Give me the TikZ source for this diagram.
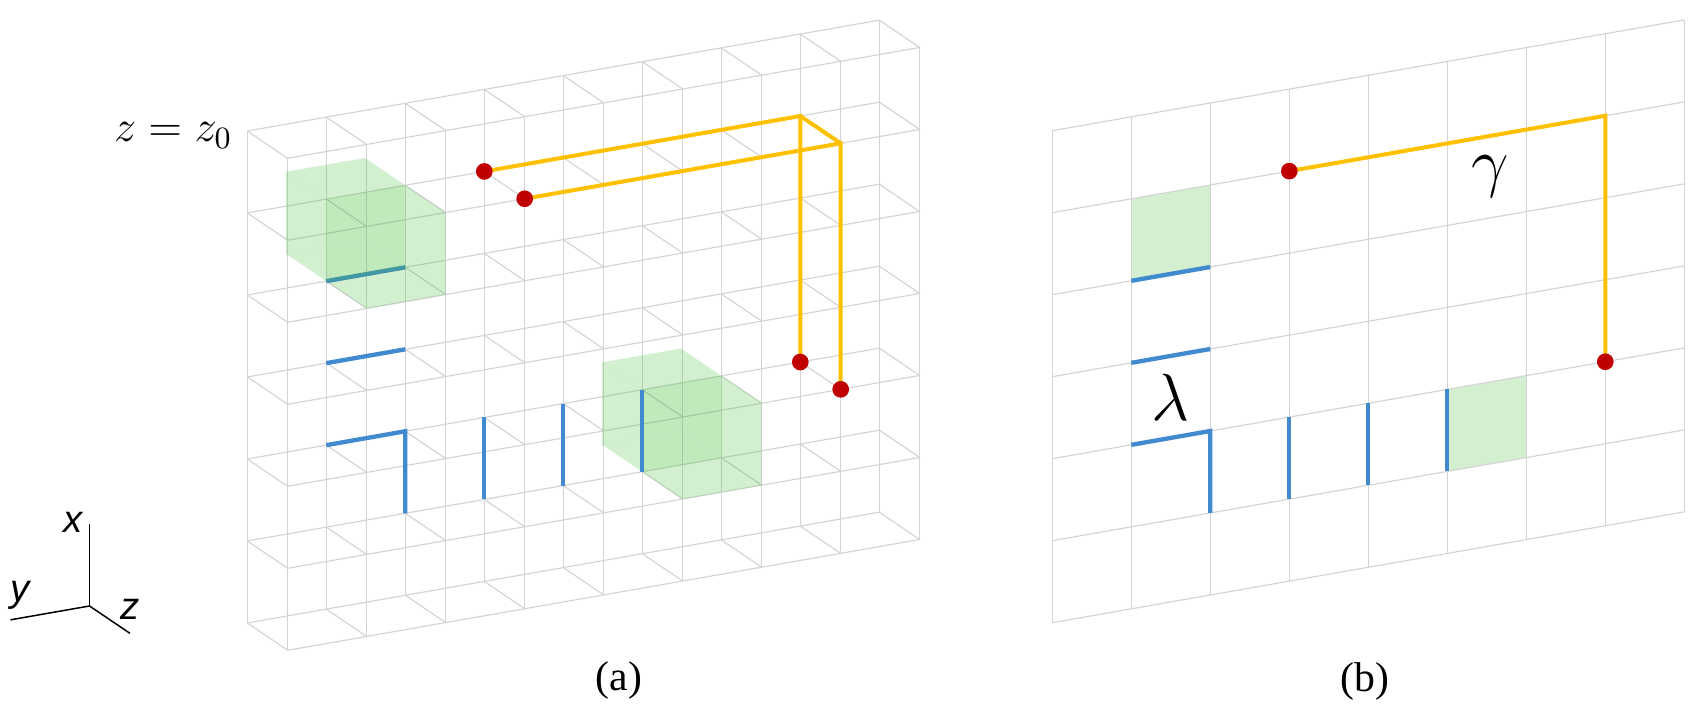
\documentclass[tikz,border=0pt]{standalone}
\usepackage{fix-cm}
\usepackage[no-math]{fontspec}
\newfontfamily\capfont{Liberation Serif}
\newfontfamily\axfont{Liberation Sans}
\usetikzlibrary{positioning}

\definecolor{meshgray}{RGB}{212,212,212}
\definecolor{pathgold}{RGB}{255,192,0}
\definecolor{bondblue}{RGB}{66,138,208}
\definecolor{spotred}{RGB}{192,0,0}
\definecolor{boxgreen}{RGB}{70,190,60}

\newcommand{\membrane}[2]{%
  \fill[cellfill] (#1,#2,-1) -- (#1+1,#2,-1) -- (#1+1,#2+1,-1) -- (#1,#2+1,-1) -- cycle;
  \fill[cellfill] (#1,#2,1) -- (#1+1,#2,1) -- (#1+1,#2+1,1) -- (#1,#2+1,1) -- cycle;
  \fill[cellfill] (#1,#2,-1) -- (#1+1,#2,-1) -- (#1+1,#2,1) -- (#1,#2,1) -- cycle;
  \fill[cellfill] (#1,#2+1,-1) -- (#1+1,#2+1,-1) -- (#1+1,#2+1,1) -- (#1,#2+1,1) -- cycle;
  \fill[cellfill] (#1,#2,-1) -- (#1,#2+1,-1) -- (#1,#2+1,1) -- (#1,#2,1) -- cycle;
  \fill[cellfill] (#1+1,#2,-1) -- (#1+1,#2+1,-1) -- (#1+1,#2+1,1) -- (#1+1,#2,1) -- cycle;
  \fill[cellfill] (#1,#2,0) -- (#1+1,#2,0) -- (#1+1,#2+1,0) -- (#1,#2+1,0) -- cycle;
}

\begin{document}
\begin{tikzpicture}[
  x=0.3pt, y=0.3pt,
  lattice/.style={x={(23.7pt,4.155pt)},y={(0pt,-24.6pt)},z={(12.12pt,-8.19pt)}},
  mesh/.style={draw=meshgray,line width=0.35pt},
  bond/.style={draw=bondblue,line width=1.3pt,line join=miter},
  goldline/.style={draw=pathgold,line width=1.2pt,line join=miter},
  spot/.style={circle,fill=spotred,inner sep=0pt,minimum size=5pt},
  cellfill/.style={fill=boxgreen,fill opacity=0.13},
  plaq/.style={fill=boxgreen,fill opacity=0.24},
  axis/.style={draw=black,line width=0.45pt},
  axlabel/.style={font=\axfont\itshape\fontsize{11.5}{13}\selectfont,inner sep=0pt},
  caption/.style={font=\capfont\fontsize{12.5}{14}\selectfont,inner sep=0pt},
  greek/.style={font=\fontsize{20}{22}\selectfont,inner sep=0pt}
]
\useasboundingbox (0,0) rectangle (1700,714);

% (a) two layers
\begin{scope}[shift={(247.3,583)},lattice]
  \foreach \lay in {0,1}{
    \foreach \col in {0,...,8} \draw[mesh] (\col,0,\lay) -- (\col,6,\lay);
    \foreach \row in {0,...,6} \draw[mesh] (0,\row,\lay) -- (8,\row,\lay);
  }
  \foreach \col in {0,...,8}
    \foreach \row in {0,...,6} \draw[mesh] (\col,\row,0) -- (\col,\row,1);
  \membrane{5}{4}
  \draw[bond] (1,2,0) -- (2,2,0);
  \draw[bond] (1,3,0) -- (2,3,0);
  \draw[bond] (1,4,0) -- (2,4,0) -- (2,5,0);
  \foreach \col in {3,4,5} \draw[bond] (\col,4,0) -- (\col,5,0);
  \membrane{1}{1}
  \coordinate (ua0) at (3,1,0);
  \coordinate (ka0) at (7,1,0);
  \coordinate (va0) at (7,4,0);
  \coordinate (ua1) at (3,1,1);
  \coordinate (ka1) at (7,1,1);
  \coordinate (va1) at (7,4,1);
  \draw[goldline] (ua0) -- (ka0) -- (va0);
  \draw[goldline] (ua1) -- (ka1) -- (va1);
  \draw[goldline] (ka0) -- (ka1);
  \foreach \p in {ua0,ua1,va0,va1} \node[spot] (d-\p) at (\p) {};
\end{scope}
\node[anchor=base east,inner sep=0pt,font=\fontsize{13.3}{15}\selectfont] (zlab) at (233,572.3) {$z=z_0$};

% axes
\begin{scope}[shift={(89.5,108)},lattice]
  \coordinate (o) at (0,0,0);
  \coordinate (xt) at (0,-1,0);
  \coordinate (yt) at (-1,0,0);
  \coordinate (zt) at (0,0,1);
  \draw[axis] (o) -- (xt);
  \draw[axis] (o) -- (yt);
  \draw[axis] (o) -- (zt);
\end{scope}
\node[axlabel] (xlab) at (73,192) {x};
\node[axlabel] (ylab) at (20,118.5) {y};
\node[axlabel] (zlab2) at (130,104.7) {z};

% (b) the slice
\begin{scope}[shift={(1052.3,583.3)},lattice]
  \fill[plaq] (1,1) -- (2,1) -- (2,2) -- (1,2) -- cycle;
  \fill[plaq] (5,4) -- (6,4) -- (6,5) -- (5,5) -- cycle;
  \foreach \col in {0,...,8} \draw[mesh] (\col,0) -- (\col,6);
  \foreach \row in {0,...,6} \draw[mesh] (0,\row) -- (8,\row);
  \draw[bond] (1,2) -- (2,2);
  \draw[bond] (1,3) -- (2,3);
  \draw[bond] (1,4) -- (2,4) -- (2,5);
  \foreach \col in {3,4,5} \draw[bond] (\col,4) -- (\col,5);
  \coordinate (ub) at (3,1);
  \coordinate (kb) at (7,1);
  \coordinate (vb) at (7,4);
  \draw[goldline] (ub) -- (kb) -- (vb);
  \node[spot] (d-ub) at (ub) {};
  \node[spot] (d-vb) at (vb) {};
  \node[greek] (gam) at (5.54,1.49) {$\gamma$};
  \node[greek] (lam) at (1.5,3.5) {$\lambda$};
\end{scope}

\node[caption] (capa) at (619,34) {(a)};
\node[caption] (capb) at (1365,33) {(b)};
\end{tikzpicture}
\end{document}
